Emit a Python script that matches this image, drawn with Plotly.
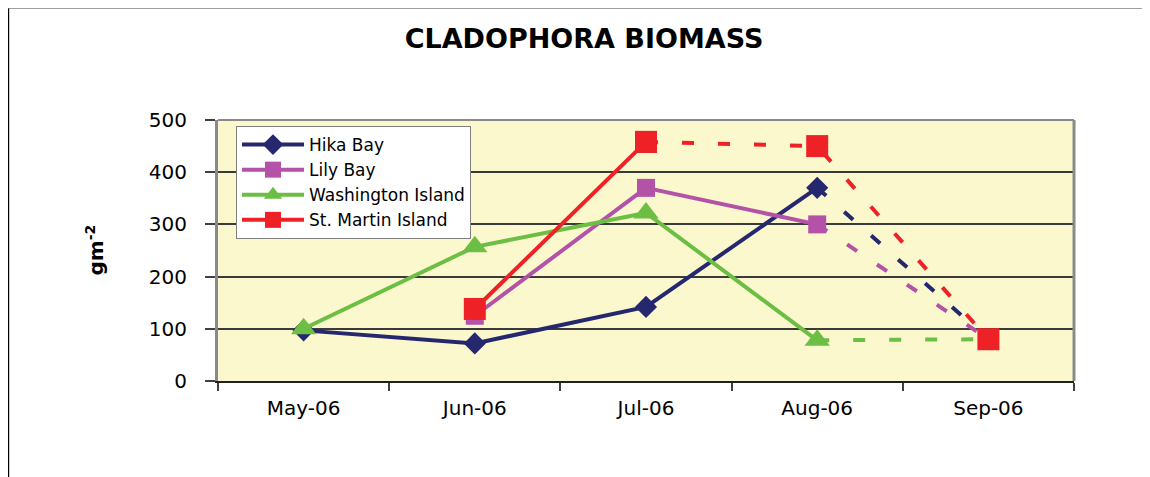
import plotly.graph_objects as go

months = ["May-06", "Jun-06", "Jul-06", "Aug-06", "Sep-06"]
hika_bay = [97, 72, 142, 370, 80]
lily_bay = [None, 125, 370, 300, 80]
washington_island = [100, 257, 322, 78, 80]
st_martin_island = [None, 138, 458, 450, 80]
y_ticks = [0, 100, 200, 300, 400, 500]

# index where the dashed (estimated) part of each series starts
dash_start = {"Hika Bay": 3, "Lily Bay": 3, "Washington Island": 3, "St. Martin Island": 2}

series = [
    ("Hika Bay", hika_bay, "#25276F", "diamond", 17),
    ("Lily Bay", lily_bay, "#B452A8", "square", 18),
    ("Washington Island", washington_island, "#6DBE45", "triangle-up", 22),
    ("St. Martin Island", st_martin_island, "#EE2226", "square", 22),
]

fig = go.Figure()

def part(vals, start, end):
    return [v if start <= i <= end else None for i, v in enumerate(vals)]

# dashed tails for the first three series
for name, vals, color, sym, size in series[:3]:
    s = dash_start[name]
    fig.add_trace(go.Scatter(x=months, y=part(vals, s, 4), mode="lines",
                             line=dict(color=color, width=4, dash="12px,24px"),
                             showlegend=False, hoverinfo="skip"))

# solid parts
for name, vals, color, sym, size in series[:3]:
    s = dash_start[name]
    fig.add_trace(go.Scatter(x=months, y=part(vals, 0, s), mode="lines+markers", name=name,
                             line=dict(color=color, width=4),
                             marker=dict(symbol=sym, size=size, color=color)))

name, vals, color, sym, size = series[3]
s = dash_start[name]
fig.add_trace(go.Scatter(x=months, y=part(vals, s, 4), mode="lines+markers",
                         line=dict(color=color, width=4, dash="12px,24px"),
                         marker=dict(symbol=sym, size=size, color=color),
                         showlegend=False, hoverinfo="skip"))
fig.add_trace(go.Scatter(x=months, y=part(vals, 0, s), mode="lines+markers", name=name,
                         line=dict(color=color, width=4),
                         marker=dict(symbol=sym, size=size, color=color)))

# page offset (body margin) of 8px
OFF = 8
L, R, T, B = 218 - OFF, 1074 - OFF, 120 - OFF, 381 - OFF
W, H = 1142, 469
pw, ph = R - L, B - T

def px(x):
    return (x - OFF - L) / pw

def py(y):
    return (B - (y - OFF)) / ph

fig.update_layout(
    width=W, height=H,
    margin=dict(l=L, r=W - R, t=T, b=H - B, pad=0),
    paper_bgcolor="white",
    plot_bgcolor="#FBF8CE",
    font=dict(family="DejaVu Sans", color="black", size=18),
    title=dict(text="<b>CLADOPHORA BIOMASS</b>", x=(584 - OFF) / W, xref="container", xanchor="center",
               y=1 - (39 - OFF) / H, yref="container", yanchor="middle",
               font=dict(family="DejaVu Sans", size=27, color="black")),
    showlegend=True,
    legend=dict(x=px(236), y=py(126), xanchor="left", yanchor="top",
                bgcolor="white", bordercolor="#808080", borderwidth=1,
                font=dict(family="DejaVu Sans", size=17, color="black"),
                itemwidth=62, tracegroupgap=0),
    xaxis=dict(type="category", categoryorder="array", categoryarray=months,
               range=[-0.5, 4.5], tickson="boundaries", ticks="outside", ticklen=8,
               tickcolor="#404040", tickwidth=2, showgrid=False,
               showline=True, linecolor="#202020", linewidth=2,
               ticklabelstandoff=8,
               tickfont=dict(family="DejaVu Sans", size=20, color="black")),
    yaxis=dict(range=[0, 500], tickvals=y_ticks, ticks="outside", ticklen=10,
               tickcolor="#404040", tickwidth=2,
               showgrid=True, gridcolor="#3A3A3A", gridwidth=1.5,
               showline=True, linecolor="#8A8A8A", linewidth=3, zeroline=False,
               ticklabelstandoff=14,
               tickfont=dict(family="DejaVu Sans", size=20, color="black")),
    annotations=[dict(text="<b>gm<sup>-2</sup></b>", x=px(94), y=0.5, xref="paper", yref="paper",
                      textangle=-90, showarrow=False, xanchor="center", yanchor="middle",
                      font=dict(family="DejaVu Sans", size=20, color="black"))],
    shapes=[
        # plot area border (top and right)
        dict(type="line", xref="paper", yref="paper", x0=0, x1=1, y0=1, y1=1,
             line=dict(color="#8A8A8A", width=2), layer="above"),
        dict(type="line", xref="paper", yref="paper", x0=1, x1=1, y0=0, y1=1,
             line=dict(color="#8A8A8A", width=3), layer="above"),
        # outer frame (top and left)
        dict(type="line", xref="paper", yref="paper", x0=px(8), x1=px(1150 + 5), y0=py(8.5), y1=py(8.5),
             line=dict(color="#A0A0A0", width=1)),
        dict(type="line", xref="paper", yref="paper", x0=px(8.2), x1=px(8.2), y0=py(8.5), y1=py(477 + 5),
             line=dict(color="black", width=2)),
    ],
)

fig.write_html("out.html")
